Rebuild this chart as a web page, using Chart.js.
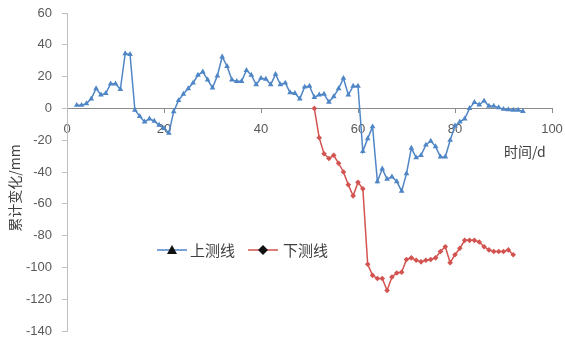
<!DOCTYPE html>
<html>
<head>
<meta charset="utf-8">
<script src="https://cdn.jsdelivr.net/npm/chart.js@4.4.0/dist/chart.umd.min.js"></script>
<style>
  html, body { margin: 0; padding: 0; background: #fff; }
  #wrap { position: relative; width: 565px; height: 338px; }
</style>
</head>
<body>
<div id="wrap"><canvas id="settleChart" width="565" height="338"></canvas></div>
<script>
// 上测线 (blue): day / cumulative change (mm)
var upperDays = [2,3,4,5,6,7,8,9,10,11,12,13,14,15,16,17,18,19,20,21,22,23,24,25,26,27,28,29,30,31,
  32,33,34,35,36,37,38,39,40,41,42,43,44,45,46,47,48,49,50,51,52,53,54,55,56,57,58,59,60,61,
  62,63,64,65,66,67,68,69,70,71,72,73,74,75,76,77,78,79,80,81,82,83,84,85,86,87,88,89,90,91,
  92,93,94];
var upperVals = [2,2,3,6,12.5,8.5,9.5,15.5,15.5,12,34.5,34,-1,-5,-8.5,-6.5,-8,-10.5,-12.5,-15.5,
  -2,5,9,12.5,16,21,23,18,13,20.5,32.5,26.5,18,17,17,24,21,15,19,18.5,15,21.5,15,16,10,9.5,6,
  13.5,14,7,8.5,9,4,7.5,12.5,19,8.5,14,14,-27,-19,-11.5,-46,-38,-44.5,-43,-46,-52,-41,-25,-31,
  -29.5,-23,-20.5,-24,-30.5,-30.5,-20,-11,-8.5,-6.5,0,3.8,2.3,4.7,1.5,1.5,0.5,-0.5,-0.8,-1,-1,-1.8];

// 下测线 (red)
var lowerDays = [51,52,53,54,55,56,57,58,59,60,61,62,63,64,65,66,67,68,69,70,71,72,73,74,75,76,
  77,78,79,80,81,82,83,84,85,86,87,88,89,90,91,92];
var lowerVals = [0,-18.5,-28.5,-31.5,-29.5,-34.5,-40,-48,-55,-46.5,-50.5,-98,-105,-107,-107,-114.5,
  -106,-103.5,-103,-95,-94,-95.5,-96.5,-95.5,-95,-94,-90,-87,-97,-92,-88,-83,-83,-83,-84,-87,-89,
  -90,-90,-90,-89,-92];

var yTicks = [60,40,20,0,-20,-40,-60,-80,-100,-120,-140];
var xTicks = [0,20,40,60,80,100];

var seriesNames = ['上测线', '下测线'];
var xTitle = '时间/d';
var yTitle = '累计变化/mm';

function toPoints(xs, ys) {
  var pts = [];
  for (var i = 0; i < xs.length; i++) pts.push({x: xs[i], y: ys[i]});
  return pts;
}

var BLUE = '#4f86c6';
var RED = '#d2534f';
var cjk = '"Noto Sans CJK SC", "Noto Sans", sans-serif';

// axis titles and legend are drawn by hand so they sit where the original has them
var extras = {
  id: 'extras',
  afterDraw: function(chart) {
    var ctx = chart.ctx;
    ctx.save();
    ctx.fillStyle = '#404040';
    ctx.font = '14px ' + cjk;
    ctx.textBaseline = 'middle';
    ctx.textAlign = 'left';
    ctx.fillText(xTitle, 504, 152);

    ctx.translate(15, 188);
    ctx.rotate(-Math.PI / 2);
    ctx.textAlign = 'center';
    ctx.fillText(yTitle, 0, 0);
    ctx.restore();

    // legend
    ctx.save();
    var ly = 250;
    ctx.lineWidth = 1.5;
    ctx.strokeStyle = BLUE;
    ctx.beginPath(); ctx.moveTo(157, ly); ctx.lineTo(187, ly); ctx.stroke();
    ctx.fillStyle = '#111';
    ctx.beginPath(); ctx.moveTo(172, ly - 5); ctx.lineTo(177, ly + 4); ctx.lineTo(167, ly + 4); ctx.closePath(); ctx.fill();
    ctx.strokeStyle = RED;
    ctx.beginPath(); ctx.moveTo(248, ly); ctx.lineTo(278, ly); ctx.stroke();
    ctx.beginPath(); ctx.moveTo(263, ly - 5); ctx.lineTo(268, ly); ctx.lineTo(263, ly + 5); ctx.lineTo(258, ly); ctx.closePath(); ctx.fill();
    ctx.fillStyle = '#404040';
    ctx.font = '15px ' + cjk;
    ctx.textBaseline = 'middle';
    ctx.textAlign = 'left';
    ctx.fillText(seriesNames[0], 190, ly);
    ctx.fillText(seriesNames[1], 283, ly);
    ctx.restore();
  }
};

var ctx = document.getElementById('settleChart').getContext('2d');
var chart = new Chart(ctx, {
  type: 'line',
  data: {
    datasets: [{
      label: seriesNames[0],
      data: toPoints(upperDays, upperVals),
      borderColor: BLUE,
      backgroundColor: BLUE,
      borderWidth: 1.5,
      pointStyle: 'triangle',
      pointRadius: 3.3,
      pointBorderWidth: 0,
      tension: 0
    }, {
      label: seriesNames[1],
      data: toPoints(lowerDays, lowerVals),
      borderColor: RED,
      backgroundColor: RED,
      borderWidth: 1.5,
      pointStyle: 'rectRot',
      pointRadius: 2.8,
      pointBorderWidth: 0,
      tension: 0
    }]
  },
  options: {
    responsive: false,
    animation: false,
    layout: { padding: { left: 0, right: 13, top: 13, bottom: 7 } },
    plugins: {
      legend: { display: false },
      tooltip: { enabled: false }
    },
    scales: {
      x: {
        type: 'linear',
        position: { y: 0 },
        min: 0,
        max: 100,
        grid: { display: true, drawOnChartArea: false, drawTicks: true, tickLength: 4, color: '#8c8c8c' },
        border: { color: '#8c8c8c', width: 1 },
        afterBuildTicks: function(s) { s.ticks = xTicks.map(function(v) { return {value: v}; }); },
        afterFit: function(s) { s.height = 0; s.paddingLeft = 0; s.paddingRight = 0; },
        ticks: { color: '#595959', font: { family: 'Liberation Sans', size: 13 }, padding: 9, maxRotation: 0 }
      },
      y: {
        min: -140,
        max: 60,
        grid: { display: true, drawOnChartArea: false, tickLength: 5, color: '#bfbfbf' },
        border: { color: '#bfbfbf', width: 1 },
        afterBuildTicks: function(s) { s.ticks = yTicks.map(function(v) { return {value: v}; }); },
        afterFit: function(s) { s.width = 67; s.paddingTop = 0; s.paddingBottom = 0; },
        ticks: { color: '#595959', font: { family: 'Liberation Sans', size: 13 }, padding: 10 }
      }
    }
  },
  plugins: [extras]
});
</script>
</body>
</html>
